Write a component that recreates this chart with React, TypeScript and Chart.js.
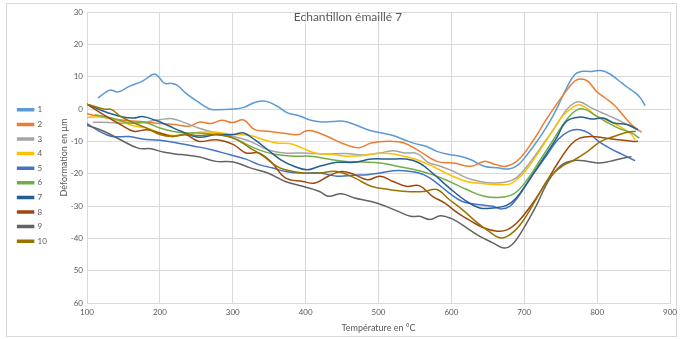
import React, { useEffect, useRef } from "react";
import { Chart, registerables } from "chart.js";

Chart.register(...registerables);

const TITLE = "Echantillon émaillé 7";
const X_TITLE = "Température en °C";
const Y_TITLE = "Déformation en µm";
const SERIES_NAMES = ["1", "2", "3", "4", "5", "6", "7", "8", "9", "10"];
const Y_TICK_VALUES = [30, 20, 10, 0, -10, -20, -30, -40, -50, -60];
const Y_TICK_LABELS = ["30", "20", "10", "0", "-10", "-20", "-30", "-40", "50", "60"];
const X_TICK_VALUES = [100, 200, 300, 400, 500, 600, 700, 800, 900];

type P = [number, number];

const serie1: P[] = [[115,3.4],[131,5.8],[143,5.3],[158,7],[176,8.6],[192,10.8],[198,10],[206,8],[217,7.9],[224,7.3],[235,5],[251,2.4],[268,0],[277,-0.2],[301,0],[315,0.5],[330,2],[345,2.4],[360,1],[375,-1.2],[390,-2],[407,-3.5],[422,-4],[437,-3.9],[452,-3.8],[467,-4.8],[485,-6.4],[499,-7.2],[520,-8.2],[535,-9.5],[550,-10.7],[565,-11.5],[580,-13.1],[597,-14.1],[612,-14.6],[627,-15.7],[645,-17.7],[663,-18.2],[680,-18.5],[692,-17.2],[704,-14.1],[719,-9.5],[734,-4.3],[746,0.8],[758,6.5],[769,10.6],[778,11.6],[790,11.6],[805,11.9],[817,10.9],[829,8.9],[841,6.8],[853,4.9],[860,3.2],[866,1]];
const serie2: P[] = [[100,-1.5],[120,-2.5],[150,-3.5],[180,-4],[200,-4.5],[220,-4.8],[240,-5.3],[255,-4],[270,-4.5],[285,-3.5],[300,-4.2],[315,-3.4],[330,-6.4],[348,-6.9],[370,-7.5],[390,-7.9],[400,-6.8],[410,-6.8],[430,-8.5],[449,-10.5],[473,-12],[490,-10.5],[514,-10],[535,-10.5],[556,-13],[580,-16.2],[603,-16.7],[627,-17.7],[645,-16.2],[661,-17.2],[675,-17.7],[692,-15.7],[713,-9.5],[730,-3.3],[752,3.9],[769,8.6],[778,9.3],[787,8.6],[799,5.5],[811,3.4],[823,1.3],[835,-1.8],[847,-4.8],[861,-7.2]];
const serie3: P[] = [[108,-4.1],[130,-4.2],[158,-4.5],[180,-4],[200,-3.3],[217,-3],[235,-4.3],[253,-5.9],[277,-7.4],[301,-8.5],[324,-10],[348,-12.6],[372,-13.6],[396,-13.6],[425,-13.9],[455,-13.8],[479,-14.2],[502,-13.6],[520,-12.9],[535,-13.6],[553,-13.8],[568,-16.5],[585,-17.7],[603,-19.3],[621,-21.3],[639,-22.4],[657,-22.9],[675,-22.6],[689,-21.3],[704,-17.7],[722,-12.1],[740,-6.4],[758,-0.2],[769,1.9],[778,2.1],[790,0.6],[805,-1],[823,-2.8],[841,-4.8],[858,-6.8]];
const serie4: P[] = [[100,-2.6],[123,-2.5],[146,-3.8],[164,-5.2],[182,-5.9],[200,-7.4],[217,-8.2],[235,-7.9],[253,-7.2],[277,-7.2],[301,-7.9],[324,-8.2],[342,-9.5],[360,-10.5],[378,-10.7],[396,-12.1],[413,-13.6],[437,-14.1],[455,-14.6],[479,-14.4],[496,-13.8],[514,-13.8],[535,-14.6],[553,-15.7],[574,-17.7],[597,-20.3],[621,-22.4],[645,-23.1],[668,-23.4],[683,-22.9],[701,-19.3],[719,-13.6],[737,-7.4],[752,-2.3],[767,0.6],[776,1.3],[788,-0.2],[799,-2.1],[817,-3.8],[835,-5.9],[847,-7.9],[852,-9.6]];
const serie5: P[] = [[100,-4.5],[117,-6.9],[134,-8.5],[158,-8.5],[176,-9.3],[200,-9.7],[223,-10.5],[247,-11.5],[271,-12.6],[295,-14.1],[318,-15.5],[336,-17.2],[354,-18.2],[372,-19.3],[396,-19.8],[419,-19.8],[443,-20.8],[467,-20.5],[485,-20.3],[502,-19.8],[520,-19.1],[544,-19.3],[562,-20.3],[580,-22.9],[597,-26],[615,-28.6],[639,-29.6],[657,-30.1],[668,-30.9],[680,-30.1],[692,-27],[710,-20.8],[728,-15.2],[746,-9.5],[761,-6.9],[776,-6.4],[788,-7.4],[802,-10],[817,-12.1],[835,-14.1],[852,-16]];
const serie6: P[] = [[111,-1.8],[134,-2.8],[158,-4.3],[182,-4.3],[200,-5.9],[217,-6.9],[235,-7.4],[253,-7.4],[277,-7.9],[301,-9],[324,-11.5],[342,-13.1],[360,-14.1],[384,-14.6],[407,-14.6],[431,-15.5],[455,-16.2],[479,-16.4],[502,-16.7],[526,-17.7],[550,-18.8],[574,-20.3],[597,-22.4],[621,-24.9],[645,-27],[668,-27.3],[686,-26.2],[704,-21.9],[722,-15.7],[740,-9.5],[758,-3.3],[773,-0.2],[784,-0.2],[796,-1.8],[811,-3.8],[829,-5.9],[847,-7.4],[858,-9]];
const serie7: P[] = [[100,1.5],[123,-0.7],[146,-2.3],[164,-2.8],[176,-2.3],[194,-3.5],[212,-5.2],[229,-6.9],[253,-8.7],[277,-7.9],[301,-7.9],[315,-7.4],[330,-9.5],[348,-12.6],[366,-15.7],[384,-17.7],[402,-18.8],[419,-17.7],[443,-16.5],[467,-16.5],[490,-15.5],[514,-15.5],[538,-15.5],[556,-16.7],[574,-19.8],[597,-24.4],[621,-28.6],[639,-30.6],[657,-30.6],[675,-29.9],[689,-27.5],[707,-21.9],[725,-15.7],[743,-9.5],[758,-3.8],[776,-2.5],[793,-3.1],[808,-2.8],[823,-4.3],[841,-4.8],[856,-6.4]];
const serie8: P[] = [[100,1.5],[123,-1.8],[146,-4.8],[164,-6.9],[182,-6.4],[200,-7.4],[217,-8.5],[235,-7.9],[253,-10],[277,-9.5],[301,-11],[318,-13.6],[336,-13.6],[354,-16.7],[372,-21.3],[396,-22.4],[413,-22.9],[431,-20.8],[449,-19.3],[467,-20.3],[485,-21.9],[502,-20.8],[520,-22.4],[538,-23.9],[556,-23.7],[574,-27],[591,-29.1],[609,-32.2],[627,-34.7],[645,-36.8],[663,-37.8],[677,-37.3],[692,-34.7],[710,-29.6],[728,-23.4],[746,-16.7],[764,-11],[776,-9],[793,-8.5],[811,-9],[829,-9.5],[847,-10],[856,-10]];
const serie9: P[] = [[100,-5],[123,-6.9],[146,-9.5],[170,-12.1],[188,-12.3],[206,-13.4],[229,-14.1],[253,-14.8],[277,-16.2],[301,-16.4],[324,-18.2],[348,-19.8],[372,-22.4],[396,-23.9],[419,-25.5],[431,-27],[449,-26.2],[467,-27.5],[490,-28.6],[508,-29.9],[526,-31.6],[544,-33.2],[556,-33.2],[571,-34.2],[585,-33],[603,-34.2],[621,-36.8],[639,-39.4],[657,-41.4],[672,-43],[683,-42],[698,-37.3],[716,-30.1],[734,-21.9],[752,-17.2],[769,-15.9],[787,-16.2],[802,-16.7],[817,-16.2],[835,-15.2],[847,-14.8]];
const serie10: P[] = [[100,1.5],[123,0],[134,-0.2],[146,-2.3],[164,-4.3],[182,-5.9],[200,-7.9],[217,-8.5],[235,-7.9],[253,-8.2],[277,-7.9],[301,-9],[324,-12.1],[342,-14.6],[360,-17.7],[372,-18.8],[396,-19.8],[419,-19.8],[443,-19.3],[467,-21.3],[490,-23.9],[514,-24.9],[538,-25.5],[562,-25.5],[580,-24.9],[597,-28],[615,-31.1],[633,-34.7],[651,-37.8],[668,-39.9],[683,-38.4],[698,-34.7],[716,-28],[734,-21.3],[752,-17.7],[769,-15.7],[787,-13.1],[805,-10],[823,-8.5],[841,-7.2],[853,-6.9]];

const SERIES: P[][] = [serie1, serie2, serie3, serie4, serie5, serie6, serie7, serie8, serie9, serie10];
const COLORS = ["#5B9BD5", "#ED7D31", "#A5A5A5", "#FFC000", "#4472C4", "#70AD47", "#255E91", "#9E480E", "#636363", "#997300"];

const FONT = "Lato, 'Open Sans', 'DejaVu Sans', sans-serif";
const TEXT_COLOR = "#595959";
const GRID = "#d9d9d9";

const PLOT_LEFT = 87;
const PAD_LEFT = 11;

const decorPlugin = {
  id: "decor",
  beforeDraw(chart: any) {
    const ctx = chart.ctx;
    ctx.save();
    ctx.fillStyle = "#ffffff";
    ctx.fillRect(0, 0, chart.width, chart.height);
    ctx.strokeStyle = GRID;
    ctx.lineWidth = 1;
    ctx.strokeRect(6.5, 3.5, chart.width - 12, chart.height - 6);
    ctx.restore();
  },
  afterDraw(chart: any) {
    const ctx = chart.ctx;
    ctx.save();
    ctx.font = `12px ${FONT}`;
    ctx.fillStyle = TEXT_COLOR;
    ctx.textAlign = "center";
    ctx.textBaseline = "middle";
    ctx.fillText(TITLE, chart.width / 2 + 7, 17);
    ctx.restore();
  },
};

export default function App() {
  const ref = useRef<HTMLCanvasElement | null>(null);
  useEffect(() => {
    document.body.style.margin = "0";
    if (!ref.current) return;
    const chart = new Chart(ref.current, {
      type: "line",
      data: {
        datasets: SERIES.map((s, i) => ({
          label: SERIES_NAMES[i],
          data: s.map(([x, y]) => ({ x, y })),
          borderColor: COLORS[i],
          backgroundColor: COLORS[i],
          borderWidth: 1.5,
          pointRadius: 0,
          tension: 0.4,
          fill: false,
          order: SERIES.length - i,
        })),
      },
      options: {
        responsive: false,
        animation: false,
        layout: { padding: { left: PAD_LEFT, top: 12, right: 8, bottom: 0 } },
        plugins: {
          legend: {
            position: "left",
            labels: {
              boxWidth: 16,
              boxHeight: 2,
              padding: 6.6,
              color: TEXT_COLOR,
              font: { family: FONT, size: 8 },
              sort: (a: any, b: any) => a.datasetIndex - b.datasetIndex,
            },
          },
          tooltip: { enabled: false },
        },
        scales: {
          x: {
            type: "linear",
            min: 100,
            max: 900,
            afterBuildTicks: (scale: any) => {
              scale.ticks = X_TICK_VALUES.map((v) => ({ value: v }));
            },
            afterFit: (scale: any) => {
              scale.height = 36;
            },
            grid: { color: GRID, drawTicks: false },
            border: { color: GRID },
            ticks: { color: TEXT_COLOR, font: { family: FONT, size: 8 }, padding: 5 },
            title: {
              display: true,
              text: X_TITLE,
              color: TEXT_COLOR,
              font: { family: FONT, size: 9 },
              padding: { top: 2, bottom: 6 },
            },
          },
          y: {
            type: "linear",
            min: -60,
            max: 30,
            afterBuildTicks: (scale: any) => {
              scale.ticks = Y_TICK_VALUES.map((v) => ({ value: v }));
            },
            afterFit: (scale: any) => {
              const lw = scale.chart.legend ? scale.chart.legend.width : 40;
              scale.width = Math.max(20, PLOT_LEFT - PAD_LEFT - lw);
            },
            grid: { color: GRID, drawTicks: false },
            border: { color: GRID },
            ticks: {
              color: TEXT_COLOR,
              font: { family: FONT, size: 8 },
              padding: 4,
              callback: (v: any) => {
                const i = Y_TICK_VALUES.indexOf(Number(v));
                return i >= 0 ? Y_TICK_LABELS[i] : "";
              },
            },
            title: {
              display: true,
              text: Y_TITLE,
              color: TEXT_COLOR,
              font: { family: FONT, size: 9 },
              padding: { top: 2, bottom: 2 },
            },
          },
        },
      },
      plugins: [decorPlugin],
    });
    return () => chart.destroy();
  }, []);
  return (
    <div style={{ width: 682, height: 339 }}>
      <canvas ref={ref} width={682} height={339} style={{ display: "block" }} />
    </div>
  );
}
